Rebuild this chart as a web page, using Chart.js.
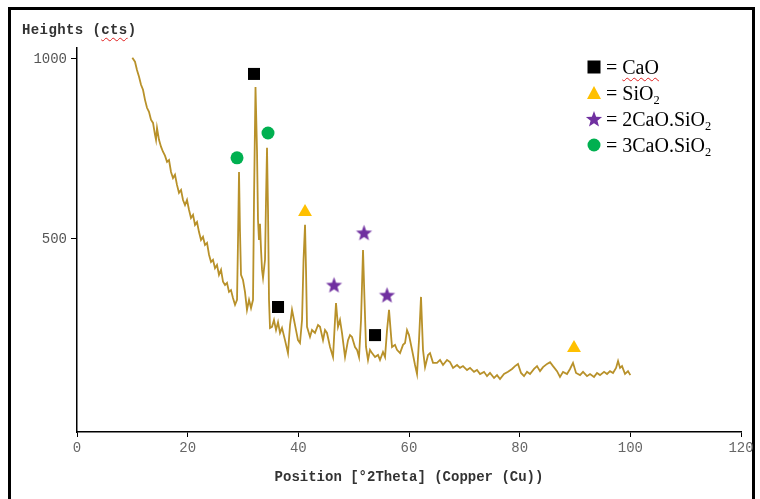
<!DOCTYPE html>
<html>
<head>
<meta charset="utf-8">
<script src="https://cdn.jsdelivr.net/npm/chart.js@4.4.1/dist/chart.umd.min.js"></script>
<style>
  html, body { margin:0; padding:0; background:#fff; }
  body { width:760px; height:499px; position:relative; overflow:hidden; }
  #frame { position:absolute; left:8px; top:7px; width:747px; height:520px; border:3px solid #000; box-sizing:border-box; }
  #c { position:absolute; left:0; top:0; }
  #ytitle { position:absolute; left:22px; top:22px; font-family:"Liberation Mono", monospace; font-weight:bold; font-size:14px; color:#333; letter-spacing:0.4px; }
  .sp { text-decoration: underline wavy #e02020; text-decoration-thickness:1px; text-underline-offset:3px; }
  #legend { position:absolute; left:585px; top:54px; font-family:"Liberation Serif", serif; font-size:20px; line-height:26px; color:#000; }
  #legend .row { height:26px; display:flex; align-items:center; }
  #legend svg { width:18px; height:18px; margin-right:3px; }
  #legend sub { font-size:0.62em; vertical-align:-0.3em; line-height:0; }
</style>
</head>
<body>
<div id="frame"></div>
<canvas id="c" width="760" height="499"></canvas>
<div id="ytitle">Heights (<span class="sp">cts</span>)</div>
<div id="legend">
  <div class="row"><svg viewBox="0 0 18 18"><rect x="2.5" y="2.5" width="13" height="13" fill="#000"/></svg><span>= <span class="sp">CaO</span></span></div>
  <div class="row"><svg viewBox="0 0 18 18"><polygon points="9,2 16,15 2,15" fill="#FFC000"/></svg><span>= SiO<sub>2</sub></span></div>
  <div class="row"><svg viewBox="0 0 18 18"><polygon id="starpoly" fill="#7030A0"/></svg><span>= 2CaO.SiO<sub>2</sub></span></div>
  <div class="row"><svg viewBox="0 0 18 18"><circle cx="9" cy="9" r="6.5" fill="#00B050"/></svg><span>= 3CaO.SiO<sub>2</sub></span></div>
</div>
<script>
// ---- Data ----
const twoTheta = [10.0,10.48,10.84,11.21,11.57,11.93,12.29,12.65,13.01,13.37,13.74,14.10,14.28,14.46,14.82,15.18,15.54,15.90,16.27,16.63,16.99,17.35,17.71,18.07,18.43,18.80,19.16,19.52,19.88,20.24,20.60,20.97,21.33,21.69,22.05,22.41,22.77,23.13,23.50,23.86,24.22,24.58,24.94,25.30,25.66,26.03,26.39,26.75,27.11,27.47,27.83,28.19,28.56,28.92,29.10,29.28,29.46,29.64,30.00,30.36,30.72,31.09,31.45,31.81,31.99,32.26,32.53,32.71,32.89,33.07,33.26,33.44,33.62,33.98,34.16,34.34,34.52,34.70,34.88,35.24,35.60,35.97,36.33,36.69,37.05,37.59,38.13,38.50,38.86,39.22,39.58,39.94,40.30,40.67,40.94,41.21,41.39,41.57,42.11,42.47,43.01,43.56,43.92,44.46,44.82,45.18,45.73,46.27,46.63,46.81,46.99,47.17,47.53,47.89,48.44,48.98,49.34,49.70,50.24,50.61,50.97,51.33,51.69,51.96,52.23,52.59,52.95,53.32,53.86,54.40,54.76,55.30,55.67,56.03,56.39,56.75,56.93,57.47,57.83,58.38,58.92,59.28,59.64,60.00,60.55,61.09,61.45,61.81,62.17,62.53,62.90,63.44,63.80,64.34,65.06,65.61,66.15,66.87,67.41,67.96,68.68,69.22,69.76,70.49,71.03,71.75,72.29,72.84,73.56,74.10,74.64,75.37,75.91,76.45,77.17,77.90,78.62,79.16,79.70,80.25,80.79,81.33,81.87,82.60,83.14,83.68,84.22,84.95,85.49,86.03,86.75,87.29,87.84,88.56,89.10,89.64,90.19,90.91,91.45,92.17,92.72,93.44,93.98,94.52,95.25,95.79,96.33,96.87,97.42,97.78,98.14,98.50,99.04,99.58,100.0];
const heights = [1003,992,969,950,928,914,886,864,853,831,822,789,775,808,775,756,742,731,714,719,686,669,678,650,628,636,608,594,608,581,558,567,539,547,519,497,506,483,489,456,436,442,419,428,400,414,381,372,378,353,358,336,317,331,497,686,519,400,386,353,303,331,308,331,608,922,747,553,497,542,469,414,392,442,608,753,581,331,253,256,275,247,269,239,253,219,183,261,303,275,247,219,211,275,442,539,414,256,228,247,239,261,256,219,247,239,200,172,275,322,289,256,275,239,172,219,233,228,200,192,172,275,469,331,200,164,192,183,172,178,164,186,172,247,303,233,200,206,192,183,206,211,247,233,192,150,125,219,339,192,144,178,183,156,156,164,150,164,158,142,150,142,147,136,142,131,136,125,131,119,128,114,122,111,125,131,139,147,153,128,119,131,125,139,147,133,144,153,158,147,133,117,131,125,139,156,128,122,131,119,125,117,128,122,131,125,133,128,142,161,142,147,125,133,122];

// Phase markers
const caoX = [31.99, 36.33, 53.86];
const caoY = [958, 311, 233];
const sio2X = [41.21, 89.82];
const sio2Y = [575, 197];
const c2sX = [46.45, 51.87, 56.03];
const c2sY = [372, 517, 344];
const c3sX = [28.92, 34.52];
const c3sY = [725, 794];

const xTicks = [0, 20, 40, 60, 80, 100, 120];
const yTicks = [500, 1000];

function pts(xs, ys) { return xs.map((x, i) => ({x: x, y: ys[i]})); }

function starPoints(cx, cy, R, r) {
  const p = [];
  for (let i = 0; i < 10; i++) {
    const a = -Math.PI / 2 + i * Math.PI / 5;
    const rad = i % 2 === 0 ? R : r;
    p.push([cx + rad * Math.cos(a), cy + rad * Math.sin(a)]);
  }
  return p;
}
document.getElementById('starpoly').setAttribute('points', starPoints(9, 9.6, 8.5, 3.6).map(q => q.join(',')).join(' '));

function makeStar(R, color) {
  const c = document.createElement('canvas');
  c.width = c.height = Math.ceil(2 * R + 2);
  const g = c.getContext('2d');
  const p = starPoints(c.width / 2, c.height / 2 + 0.6, R, R * 0.42);
  g.beginPath();
  p.forEach((q, i) => i ? g.lineTo(q[0], q[1]) : g.moveTo(q[0], q[1]));
  g.closePath();
  g.fillStyle = color;
  g.fill();
  return c;
}
const starImg = makeStar(8.5, '#7030A0');

const monoTick = { family: '"Liberation Mono", monospace', size: 14 };

new Chart(document.getElementById('c'), {
  type: 'scatter',
  data: {
    datasets: [
      { data: pts(twoTheta, heights), showLine: true, borderColor: '#b8912a', borderWidth: 1.8, pointRadius: 0, tension: 0, order: 5 },
      { data: pts(caoX, caoY), pointStyle: 'rect', pointRadius: 8.5, backgroundColor: '#000', borderWidth: 0, order: 1 },
      { data: pts(sio2X, sio2Y), pointStyle: 'triangle', pointRadius: 8, backgroundColor: '#FFC000', borderWidth: 0, order: 1 },
      { data: pts(c2sX, c2sY), pointStyle: starImg, pointRadius: 8, backgroundColor: '#7030A0', borderWidth: 0, order: 1 },
      { data: pts(c3sX, c3sY), pointStyle: 'circle', pointRadius: 6.5, backgroundColor: '#00B050', borderWidth: 0, order: 1 }
    ]
  },
  options: {
    responsive: false,
    animation: false,
    events: [],
    layout: { padding: { top: 48, right: 19, bottom: 0, left: 0 } },
    plugins: { legend: { display: false }, tooltip: { enabled: false } },
    scales: {
      x: {
        type: 'linear', min: 0, max: 120,
        afterBuildTicks: s => { s.ticks = xTicks.map(v => ({ value: v })); },
        afterFit: s => { s.height = 67; },
        ticks: { font: monoTick, color: '#666', padding: 3, maxRotation: 0, callback: v => String(v) },
        grid: { display: true, drawOnChartArea: false, drawTicks: true, tickLength: 5, color: '#000', tickColor: '#000' },
        border: { display: true, color: '#000', width: 1.5 },
        title: { display: true, text: 'Position [°2Theta] (Copper (Cu))', font: { family: '"Liberation Mono", monospace', size: 14, weight: 'bold' }, color: '#333', padding: { top: 0, bottom: 13 } }
      },
      y: {
        type: 'linear', min: -36, max: 1030,
        afterBuildTicks: s => { s.ticks = yTicks.map(v => ({ value: v })); },
        afterFit: s => { s.width = 77; },
        ticks: { font: monoTick, color: '#555', padding: 4, callback: v => String(v) },
        grid: { display: true, drawOnChartArea: false, drawTicks: true, tickLength: 6, color: '#000', tickColor: '#000' },
        border: { display: true, color: '#000', width: 1.5 }
      }
    }
  }
});
</script>
</body>
</html>
